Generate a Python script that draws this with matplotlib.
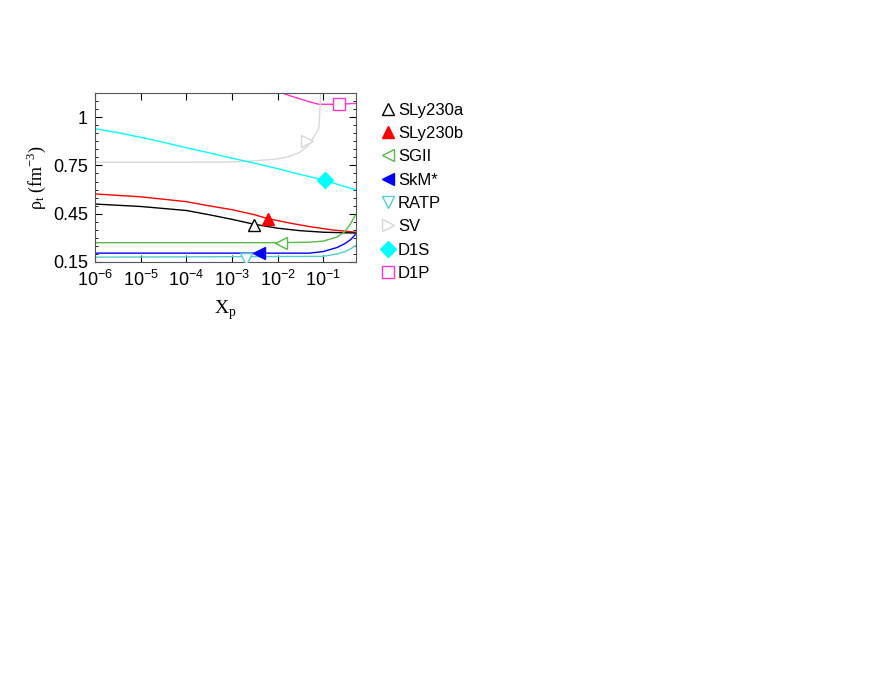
import numpy as np
import matplotlib
matplotlib.use("Agg")
import matplotlib.pyplot as plt
from matplotlib.lines import Line2D

plt.rcParams['font.family'] = 'Liberation Sans'

# ---- data ----
x_d1s = [1e-6, 3e-6, 1e-5, 3e-5, 1e-4, 3e-4, 1e-3, 3e-3, 1e-2, 3e-2, 1e-1, 0.25, 0.5]
y_d1s = [0.978, 0.955, 0.925, 0.895, 0.86, 0.83, 0.795, 0.765, 0.73, 0.695, 0.66, 0.625, 0.60]
x_sv = [1e-6, 1e-4, 1e-3, 3e-3, 1e-2, 0.02, 0.03, 0.045, 0.06, 0.08, 0.09]
y_sv = [0.77, 0.77, 0.772, 0.778, 0.79, 0.81, 0.83, 0.87, 0.92, 0.98, 1.25]
x_d1p = [0.008, 0.02, 0.05, 0.08, 0.2, 0.5]
y_d1p = [1.22, 1.18, 1.145, 1.13, 1.13, 1.135]
x_sly_b = [1e-6, 1e-5, 1e-4, 3e-4, 1e-3, 3e-3, 6e-3, 0.02, 0.05, 0.15, 0.5]
y_sly_b = [0.573, 0.555, 0.525, 0.50, 0.475, 0.445, 0.42, 0.39, 0.37, 0.35, 0.335]
x_sly_a = [1e-6, 1e-5, 1e-4, 3e-4, 1e-3, 3e-3, 0.01, 0.03, 0.1, 0.5]
y_sly_a = [0.51, 0.495, 0.47, 0.445, 0.415, 0.385, 0.36, 0.345, 0.335, 0.33]
x_sgii = [1e-6, 1e-2, 0.05, 0.1, 0.2, 0.3, 0.4, 0.5]
y_sgii = [0.27, 0.27, 0.273, 0.28, 0.305, 0.34, 0.39, 0.44]
x_skm = [1e-6, 0.05, 0.1, 0.2, 0.3, 0.4, 0.5]
y_skm = [0.205, 0.205, 0.215, 0.24, 0.265, 0.29, 0.32]
x_ratp = [1e-6, 0.1, 0.2, 0.3, 0.4, 0.5]
y_ratp = [0.18, 0.185, 0.2, 0.215, 0.232, 0.25]

# marker positions (x, y)
mk_sly_a = (3e-3, 0.38)
mk_sly_b = (6e-3, 0.42)
mk_sgii = (0.012, 0.27)
mk_skm = (4e-3, 0.205)
mk_ratp = (2e-3, 0.17)
mk_sv = (0.045, 0.90)
mk_d1s = (0.11, 0.66)
mk_d1p = (0.22, 1.13)

fig = plt.figure(figsize=(8.8, 6.8), dpi=100)
ax = fig.add_axes([95/880, 1-262/680, 261/880, 169/680])

ax.plot(x_d1p, y_d1p, color='#ff33cc', lw=1)
ax.plot(x_sv, y_sv, color='#d8d8d8', lw=1)
ax.plot(x_d1s, y_d1s, color='cyan', lw=1)
ax.plot(x_sly_b, y_sly_b, color='red', lw=1)
ax.plot(x_sly_a, y_sly_a, color='black', lw=1)
ax.plot(x_sgii, y_sgii, color='#55bb44', lw=1)
ax.plot(x_skm, y_skm, color='blue', lw=1)
ax.plot(x_ratp, y_ratp, color='#55cccc', lw=1)

styles = [
    ('SLy230a', mk_sly_a, '^', 'white', 'black'),
    ('SLy230b', mk_sly_b, '^', 'red', 'red'),
    ('SGII', mk_sgii, '<', 'white', '#55bb44'),
    ('SkM*', mk_skm, '<', 'blue', 'blue'),
    ('RATP', mk_ratp, 'v', 'white', '#55cccc'),
    ('SV', mk_sv, '>', 'white', '#d8d8d8'),
    ('D1S', mk_d1s, 'D', 'cyan', 'cyan'),
    ('D1P', mk_d1p, 's', 'white', '#ff33cc'),
]
handles = []
for name, (px, py), m, fc, ec in styles:
    ms = 8 if m == 'D' else 9
    ax.plot([px], [py], marker=m, ms=ms, mfc=fc, mec=ec, mew=1, ls='none', zorder=5)
    handles.append(Line2D([0], [0], marker=m, ms=ms, mfc=fc, mec=ec, mew=1, ls='none', label=name))

ax.set_xscale('log')
ax.set_xlim(1e-6, 0.52)
ax.set_ylim(0.15, 1.2)
ax.set_xticks([1e-6, 1e-5, 1e-4, 1e-3, 1e-2, 1e-1])
ax.set_yticks([0.15, 0.45, 0.75, 1.05])
ax.set_yticklabels(['0.15', '0.45', '0.75', '1'])
ax.set_yticks(np.arange(0.15, 1.2, 0.05), minor=True)
ax.tick_params(which='both', direction='in', top=True, right=True, labelsize=13)
ax.tick_params(which='major', length=5)
ax.tick_params(which='minor', length=2.5)
ax.tick_params(axis='x', pad=6)
ax.tick_params(axis='y', pad=5)
for s in ax.spines.values():
    s.set_color('#555555')

ax.set_xlabel(r'X$_\mathregular{p}$', fontsize=14, family='Liberation Serif', labelpad=6)
ax.set_ylabel(r'$\mathregular{\rho_t}$ (fm$^{\mathregular{-3}}$)', fontsize=13, family='Liberation Serif')

fig.legend(handles=handles, loc='upper left', bbox_to_anchor=(373/880, 1-96/680),
           frameon=False, fontsize=12, handletextpad=0.1, labelspacing=0.5,
           handlelength=1.0, borderaxespad=0)

fig.savefig('out.png', dpi=100)
